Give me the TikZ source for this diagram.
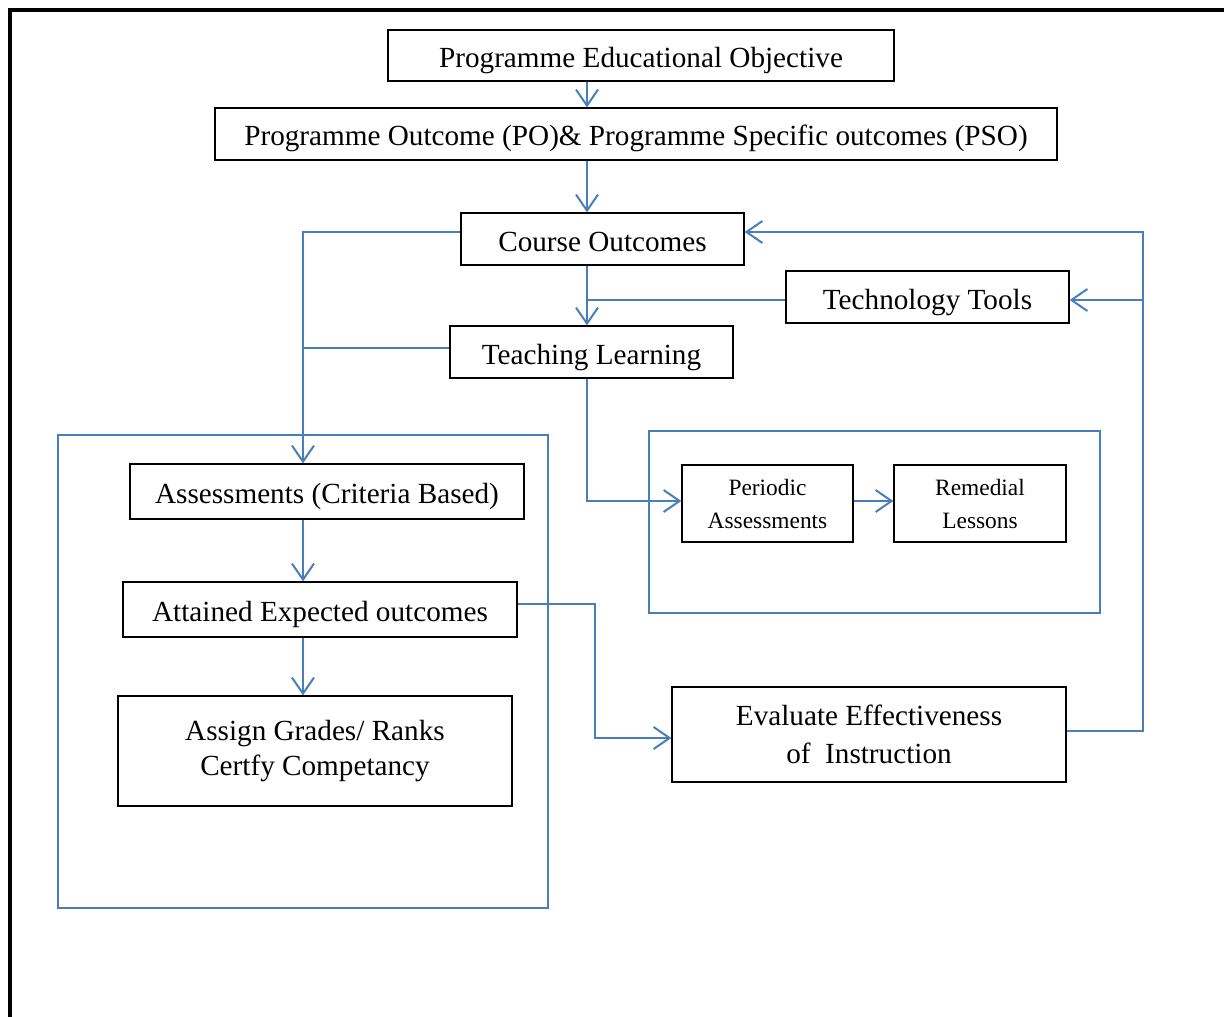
\documentclass[tikz,border=0pt]{standalone}
\usepackage{fontspec}
\setmainfont{Liberation Serif}
\usetikzlibrary{arrows.meta}
\definecolor{lineblue}{RGB}{74,126,187}

\begin{document}
\begin{tikzpicture}[%
      x=0.5pt, y=-0.5pt,
      box/.style={draw=black, line width=0.65pt, inner sep=0pt, align=center,
        font=\fontsize{14.6}{19}\selectfont},
      linebox/.style={box, text height=14pt, text depth=2pt},
      smallbox/.style={box, font=\fontsize{11.7}{16.5}\selectfont},
      link/.style={color=lineblue, line width=0.85pt},
      arr/.style={link, -{Straight Barb[length=8pt,width=11pt,line width=1pt]}},
      frame/.style={color=lineblue, line width=0.7pt},
      ]
      \useasboundingbox (0,0) rectangle (1224,1016);
      \draw [line width=2pt] (10,1040) -- (10,10) -- (1250,10);

      % blue frames
      \draw [frame] (58,435) rectangle (548,908);
      \draw [frame] (649,431) rectangle (1100,613);

      % boxes
      \node [linebox, minimum width=253pt, minimum height=25.5pt] (peo) at (641,55.5) {Programme Educational Objective};
      \node [linebox, minimum width=421pt, minimum height=26pt] (po) at (636,134) {Programme Outcome (PO)\& Programme Specific outcomes (PSO)};
      \node [linebox, minimum width=141.5pt, minimum height=26pt] (co) at (602.5,239) {Course Outcomes};
      \node [linebox, minimum width=141.5pt, minimum height=26pt] (tt) at (927.5,297) {Technology Tools};
      \node [linebox, minimum width=141.5pt, minimum height=26pt] (tl) at (591.5,352) {Teaching Learning};
      \node [linebox, minimum width=197pt, minimum height=27.5pt] (as) at (327,491.5) {Assessments (Criteria Based)};
      \node [linebox, minimum width=197pt, minimum height=27.5pt] (at) at (320,609.5) {Attained Expected outcomes};
      \node [box, font=\fontsize{14.6}{17.5}\selectfont, minimum width=197pt, minimum height=55pt] (ag) at (315,751) {Assign Grades/ Ranks\\Certfy Competancy};
      \node [smallbox, minimum width=85.5pt, minimum height=38.5pt] (pa) at (767.5,503.5) {Periodic\\Assessments};
      \node [smallbox, minimum width=86pt, minimum height=38.5pt] (rl) at (980,503.5) {Remedial\\Lessons};
      \node [box, minimum width=197pt, minimum height=47.5pt] (ev) at (869,734.5) {Evaluate Effectiveness\\of~ Instruction};

      % columns of the connectors
      \coordinate (colA) at (587,0);
      \coordinate (colL) at (303,0);
      \coordinate (colM) at (595,0);
      \coordinate (colR) at (1143,0);
      \coordinate (coleft) at ([yshift=3.5pt]co.west);
      \coordinate (coright) at ([yshift=3.5pt]co.east);
      \coordinate (ttleft) at ([yshift=-1.5pt]tt.west);
      \coordinate (ttright) at ([yshift=-1.5pt]tt.east);
      \coordinate (tlleft) at ([yshift=2pt]tl.west);
      \coordinate (paleft) at ([yshift=1.25pt]pa.west);
      \coordinate (paright) at ([yshift=1.25pt]pa.east);
      \coordinate (rlleft) at ([yshift=1.25pt]rl.west);
      \coordinate (atright) at ([yshift=2.75pt]at.east);
      \coordinate (evleft) at ([yshift=-1.75pt]ev.west);
      \coordinate (evright) at ([yshift=1.75pt]ev.east);

      % connectors
      \draw [arr] (peo.south -| colA) -- (po.north -| colA);
      \draw [arr] (po.south -| colA) -- (co.north -| colA);
      \draw [arr] (co.south -| colA) -- (tl.north -| colA);
      \draw [link] (ttleft) -- (ttleft -| colA);
      \draw [arr] (coleft) -| (as.north -| colL);
      \draw [link] (tlleft) -- (tlleft -| colL);
      \draw [arr] (tl.south -| colA) |- (paleft);
      \draw [arr] (paright) -- (rlleft);
      \draw [arr] (as.south -| colL) -- (at.north -| colL);
      \draw [arr] (at.south -| colL) -- (ag.north -| colL);
      \draw [arr] (atright) -| (evleft -| colM) -- (evleft);
      \draw [arr] (evright) -| (coright -| colR) -- (coright);
      \draw [arr] (ttright -| colR) -- (ttright);
\end{tikzpicture}
\end{document}
